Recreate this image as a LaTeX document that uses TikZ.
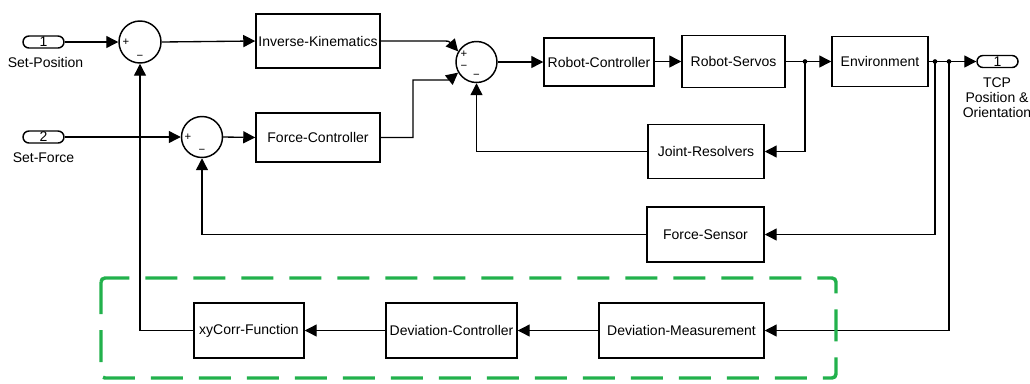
\documentclass[tikz,border=0pt]{standalone}
\usepackage{fontspec}
\setmainfont{Liberation Sans}
\usetikzlibrary{arrows.meta}
\definecolor{dashgreen}{RGB}{34,177,76}
\begin{document}
\begin{tikzpicture}[x=0.75pt,y=0.75pt,
  lbl/.style={font=\fontsize{10.5}{11.25}\selectfont},
  blk/.style={draw, line width=1.1pt, lbl, inner sep=0pt},
  sumc/.style={circle, draw, line width=1.1pt, inner sep=0pt},
  port/.style={draw, line width=1.1pt, rounded corners=4.5pt, minimum width=30.75pt, minimum height=9pt, inner sep=0pt, lbl},
  sgn/.style={font=\fontsize{8.5}{9}\selectfont, inner sep=0pt},
  wire/.style={line width=1pt},
  arr/.style={wire, -{Triangle[length=9pt,width=9pt]}},
  dotc/.style={circle, fill, inner sep=0pt, minimum size=3.5pt},
  grp/.style={draw=dashgreen, line width=2.6pt, dash pattern=on 24pt off 12pt, rounded corners=3pt}
]
\useasboundingbox (0,0) rectangle (1030,-383);

% ports
\node[port] (in1) at (43.5,-42) {1};
\node[lbl] (in1l) at (45.5,-62) {Set-Position};
\node[port] (in2) at (43.5,-137) {2};
\node[lbl] (in2l) at (43.5,-158) {Set-Force};
\node[port] (out1) at (997.5,-61.5) {1};
\node[lbl, align=center] (out1l) at (997,-98) {TCP\\Position \&\\Orientation};

% sums
\node[sumc, minimum size=31.5pt] (s1) at (140,-42) {};
\node[sgn] (s1p) at (126,-42) {+};
\node[sgn] (s1m) at (140,-57) {−};
\node[sumc, minimum size=30.75pt] (s2) at (202,-137) {};
\node[sgn] (s2p) at (188,-137) {+};
\node[sgn] (s2m) at (202,-151) {−};
\node[sumc, minimum size=30.75pt] (s3) at (476.5,-62) {};
\node[sgn] (s3p) at (464,-54) {+};
\node[sgn] (s3m1) at (464,-67) {−};
\node[sgn] (s3m2) at (476.5,-76) {−};

% blocks
\node[blk, minimum width=93pt, minimum height=40.5pt] (ik) at (318,-41) {Inverse-Kinematics};
\node[blk, minimum width=93pt, minimum height=36.75pt] (fc) at (318,-137.5) {Force-Controller};
\node[blk, minimum width=82.5pt, minimum height=36pt] (rc) at (599,-62) {Robot-Controller};
\node[blk, minimum width=77.25pt, minimum height=39pt] (rs) at (733.5,-61.5) {Robot-Servos};
\node[blk, minimum width=72pt, minimum height=37.5pt] (env) at (880,-61.5) {Environment};
\node[blk, minimum width=87pt, minimum height=40.5pt] (jr) at (706,-151.5) {Joint-Resolvers};
\node[blk, minimum width=87.75pt, minimum height=41.25pt] (fs) at (705.5,-234.5) {Force-Sensor};
\node[blk, minimum width=123.75pt, minimum height=41.25pt] (dm) at (681.5,-330.5) {Deviation-Measurement};
\node[blk, minimum width=98.25pt, minimum height=41.25pt] (dc) at (451.5,-330.5) {Deviation-Controller};
\node[blk, minimum width=82.5pt, minimum height=41.25pt] (xy) at (249,-330.5) {xyCorr-Function};

% branch points
\node[dotc] (b1) at (805,-61.5) {};
\node[dotc] (b2) at (935,-61.5) {};
\node[dotc] (b3) at (949,-61.5) {};
\coordinate (c3a) at (440,-41);
\coordinate (c3b) at (440,-80);

% connectors
\draw[arr] (in1.east) -- (s1.west);
\draw[arr] (s1.east) -- (ik.west);
\draw[arr] (in2.east) -- (s2.west);
\draw[arr] (s2.east) -- (fc.west);
\draw[arr] (ik.east) -- (c3a) .. controls (449,-41) .. (s3.150);
\draw[arr] (fc.east) -| (413,-80) -- (c3b) .. controls (449,-80) .. (s3.210);
\draw[arr] (s3.east |- rc.west) -- (rc.west);
\draw[arr] (rc.east |- rs.west) -- (rs.west);
\draw[arr] (rs.east) -- (env.west);
\draw[arr] (env.east) -- (out1.west);
\draw[arr] (b1.center) |- (jr.east);
\draw[arr] (jr.west) -| (s3.south);
\draw[arr] (b2.center) |- (fs.east);
\draw[arr] (fs.west) -| (s2.south);
\draw[arr] (b3.center) |- (dm.east);
\draw[arr] (dm.west) -- (dc.east);
\draw[arr] (dc.west) -- (xy.east);
\draw[arr] (xy.west) -| (s1.south);

% group
\draw[grp] (101,-278) rectangle (836,-378);
\end{tikzpicture}
\end{document}
